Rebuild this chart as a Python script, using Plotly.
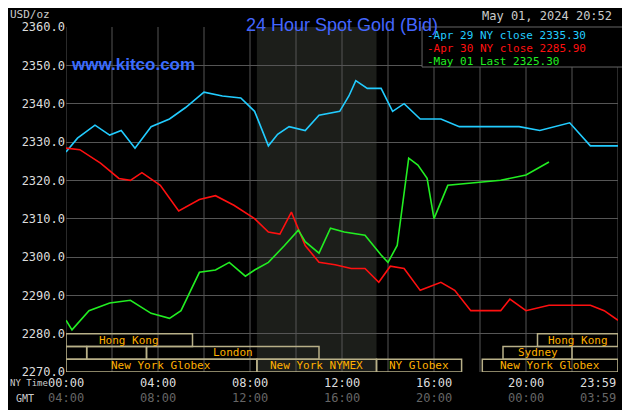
import plotly.graph_objects as go

# hours since 00:00 NY time and prices
blue_h = [0, 0.5, 1.26, 1.9, 2.4, 3, 3.7, 4.5, 5.2, 6, 6.8, 7.6, 8.2, 8.8, 9.2, 9.7, 10.4, 11, 11.9,
          12.3, 12.6, 13.1, 13.7, 14.2, 14.7, 15.4, 16.3, 17.1, 18.9, 19.7, 20.6, 21.9, 22.8, 24]
blue_v = [2327.4, 2331, 2334.4, 2331.8, 2333, 2328.4, 2334, 2336, 2339, 2343, 2342, 2341.5, 2338, 2329,
          2332, 2334, 2333, 2337, 2338, 2342, 2346, 2344, 2344, 2338, 2340, 2336, 2336, 2334, 2334,
          2334, 2333, 2335, 2329, 2329]
red_h = [0, 0.6, 1.5, 2.3, 2.8, 3.3, 4.1, 4.9, 5.8, 6.5, 7.3, 8.2, 8.8, 9.3, 9.8, 10.4, 11, 11.7,
         12.4, 13, 13.6, 14.1, 14.7, 15.4, 16.3, 16.9, 17.6, 18.9, 19.3, 20, 21, 22.8, 23.4, 24]
red_v = [2328.4, 2328, 2324.5, 2320.5, 2320, 2322, 2318.7, 2312, 2315, 2316, 2313.5, 2310, 2306.5,
         2306, 2311.7, 2303, 2298.6, 2298, 2297, 2297, 2293.4, 2297.6, 2297, 2291.3, 2293.4, 2291.3,
         2286, 2286, 2289, 2286, 2287.4, 2287.4, 2286, 2283.5]
green_h = [0, 0.26, 1, 1.9, 2.8, 3.7, 4.5, 5, 5.8, 6.5, 7.1, 7.8, 8.2, 8.8, 9.5, 10.1, 10.4, 11,
           11.5, 12.1, 13, 13.7, 14, 14.4, 14.9, 15.3, 15.7, 16, 16.6, 17.6, 18.9, 20, 21]
green_v = [2283.5, 2281, 2286, 2288, 2288.7, 2285.3, 2284, 2286, 2296, 2296.6, 2298.6, 2295, 2296.6,
           2298.6, 2303, 2307, 2304, 2301, 2307.5, 2306.5, 2305.7, 2300.5, 2298.6, 2303, 2325.8, 2324,
           2320.5, 2310, 2318.7, 2319.3, 2320, 2321.4, 2324.8]

ny_ticks = [0, 4, 8, 12, 16, 20, 24]
ny_labels = ["00:00", "04:00", "08:00", "12:00", "16:00", "20:00", "23:59"]
gmt_labels = ["04:00", "08:00", "12:00", "16:00", "20:00", "00:00", "03:59"]
y_ticks = [2270, 2280, 2290, 2300, 2310, 2320, 2330, 2340, 2350, 2360]

# sessions: (row, start, end, label)
sessions = [
    (0, 0, 5.5, "Hong Kong"), (0, 20.5, 24, "Hong Kong"),
    (1, 0, 0.9, ""), (1, 0.9, 3.5, ""), (1, 3.5, 11, "London"), (1, 19, 22, "Sydney"),
    (2, 0, 8.3, "New York Globex"), (2, 8.3, 13.5, "New York NYMEX"),
    (2, 13.5, 17.2, "NY Globex"), (2, 18.1, 24, "New York Globex"),
]

MONO = "DejaVu Sans Mono"
fig = go.Figure()
fig.add_vrect(x0=8.3, x1=13.5, fillcolor="#1c1e1a", line_width=0, layer="below")
for h in range(0, 25, 2):
    fig.add_vline(x=h, line=dict(color="#555555", width=1), layer="below")

fig.add_trace(go.Scatter(x=blue_h, y=blue_v, mode="lines", line=dict(color="#22ccff", width=1.6)))
fig.add_trace(go.Scatter(x=red_h, y=red_v, mode="lines", line=dict(color="#ff1010", width=1.6)))
fig.add_trace(go.Scatter(x=green_h, y=green_v, mode="lines", line=dict(color="#22ee22", width=1.6)))

row_h = 10 / 3
for row, x0, x1, label in sessions:
    top = 2280 - row * row_h
    fig.add_shape(type="rect", x0=x0, x1=x1, y0=top - row_h, y1=top,
                  line=dict(color="#b8b088", width=1.5), fillcolor="rgba(0,0,0,0)")
    if label:
        fig.add_annotation(x=(x0 + x1) / 2, y=top - row_h / 2, text=label, showarrow=False,
                           font=dict(family=MONO, size=11, color="#ffb000"))

for i, (t, n, g) in enumerate(zip(ny_ticks, ny_labels, gmt_labels)):
    anchor = "right" if i == len(ny_ticks) - 1 else "center"
    fig.add_annotation(x=t, y=0, yref="paper", yanchor="top", yshift=-2, xanchor=anchor, text=n,
                       showarrow=False, font=dict(family=MONO, size=12, color="#dddddd"))
    fig.add_annotation(x=t, y=0, yref="paper", yanchor="top", yshift=-17, xanchor=anchor, text=g,
                       showarrow=False, font=dict(family=MONO, size=12, color="#666666"))
fig.add_annotation(x=0, y=0, xref="paper", yref="paper", xshift=-58, yshift=-4, xanchor="left",
                   yanchor="top", text="NY Time", showarrow=False,
                   font=dict(family=MONO, size=9, color="#cccccc"))
fig.add_annotation(x=0, y=0, xref="paper", yref="paper", xshift=-52, yshift=-19, xanchor="left",
                   yanchor="top", text="GMT", showarrow=False,
                   font=dict(family=MONO, size=10, color="#cccccc"))

fig.add_annotation(x=0.5, y=1, xref="paper", yref="paper", yshift=14, text="24 Hour Spot Gold (Bid)",
                   showarrow=False, font=dict(family="Liberation Sans", size=18, color="#4466ff"))
fig.add_annotation(x=0, y=1, xref="paper", yref="paper", xshift=-58, yshift=4, xanchor="left",
                   yanchor="bottom", text="USD/oz", showarrow=False,
                   font=dict(family=MONO, size=11, color="#cccccc"))
fig.add_annotation(x=0.005, y=0.925, xref="paper", yref="paper", xanchor="left", text="<b>www.kitco.com</b>",
                   showarrow=False, font=dict(family="Liberation Sans", size=17, color="#3a6cff"))
fig.add_annotation(x=1, y=1, xref="paper", yref="paper", xanchor="right", yanchor="bottom", yshift=2,
                   xshift=-4, text="May 01, 2024 20:52", showarrow=False,
                   font=dict(family=MONO, size=12, color="#cccccc"))
legend_lines = [("#22ccff", "Apr 29 NY close 2335.30"), ("#ff1010", "Apr 30 NY close 2285.90"),
                ("#22ee22", "May 01 Last 2325.30")]
fig.add_shape(type="rect", xref="paper", yref="paper", x0=0.645, x1=1.02, y0=0.884, y1=1,
              line=dict(color="#666666", width=1), fillcolor="black")
for i, (c, t) in enumerate(legend_lines):
    fig.add_annotation(x=0.65, y=1, xref="paper", yref="paper", xanchor="left", yanchor="top",
                       yshift=-i * 13, text="-" + t, showarrow=False,
                       font=dict(family=MONO, size=11, color=c))

# page body adds 8px offset, so margins compensate
fig.update_layout(
    width=630, height=410, showlegend=False,
    paper_bgcolor="black", plot_bgcolor="black",
    margin=dict(l=58, r=20, t=19, b=46, autoexpand=False),
    xaxis=dict(range=[0, 24], showticklabels=False, showgrid=False, zeroline=False, ticks="",
               automargin=False),
    yaxis=dict(range=[2270, 2360], tickvals=y_ticks, ticktext=[f"{v:.1f}" for v in y_ticks],
               gridcolor="#555555", zeroline=False, ticks="", automargin=False,
               tickfont=dict(family=MONO, size=12, color="#dddddd")),
)
fig.write_html("out.html")
